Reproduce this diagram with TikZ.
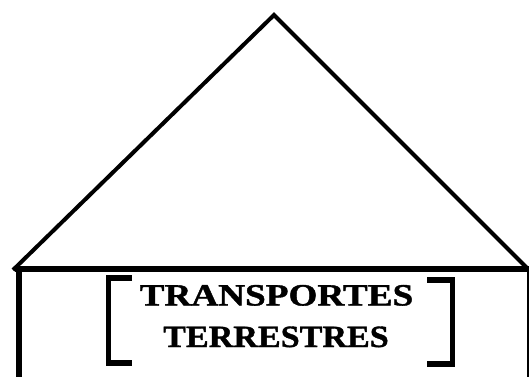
\documentclass[tikz,border=0pt]{standalone}
\usepackage{fontspec}
\setmainfont{Liberation Serif}
\newfontfamily\heavyfont[FakeBold=1.2]{Liberation Serif Bold}
\tikzset{
  roof/.style={line width=4pt, line join=miter},
  wall/.style={line width=6pt},
  thinwall/.style={line width=1.5pt},
  bracketline/.style={line width=5.5pt, line join=miter},
  label/.style={font=\fontsize{31}{33}\heavyfont, inner sep=0pt, anchor=base}
}
\begin{document}
\begin{tikzpicture}[x=1pt,y=-1pt]
\useasboundingbox (0,0) rectangle (529,376);
\fill[white] (0,0) rectangle (529,376);
% roof
\draw[roof] (13,270) -- (274,15) -- (527,268);
% house walls
\draw[wall] (15,269) -- (529,269);
\draw[wall] (18.5,266.5) -- (18.5,380);
\draw[thinwall] (528,269) -- (528,380);
% brackets
\draw[bracketline] (132,278) -- (108.5,278) -- (108.5,363) -- (132,363);
\draw[bracketline] (427,280) -- (452.5,280) -- (452.5,364) -- (427,364);
% text
\node[label, xscale=1.2] (t1) at (276.5,305.5) {TRANSPORTES};
\node[label, xscale=1.1] (t2) at (276,347) {TERRESTRES};
\end{tikzpicture}
\end{document}
